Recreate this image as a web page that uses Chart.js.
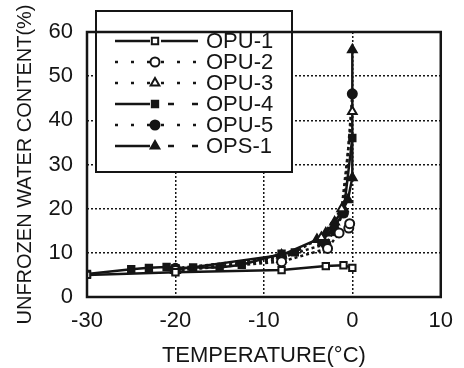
<!DOCTYPE html>
<html>
<head>
<meta charset="utf-8">
<script src="https://cdn.jsdelivr.net/npm/chart.js@4"></script>
<style>
  html, body { margin: 0; padding: 0; background: #fff; }
</style>
</head>
<body>
<canvas id="chart" width="464" height="368"></canvas>
<script>
// Series names (legend order)
const seriesNames = ['OPU-1', 'OPU-2', 'OPU-3', 'OPU-4', 'OPU-5', 'OPS-1'];

// Temperature (°C) / unfrozen water content (%)
const opu1Temp  = [-30, -20, -8, -3, -1, 0];
const opu1Water = [5.0, 5.6, 6.1, 7.0, 7.2, 6.6];

const opu2Temp  = [-20, -8, -2.8, -1.5, -0.4, -0.3];
const opu2Water = [6.0, 8.0, 11.0, 14.5, 15.6, 16.6];

const opu3Temp  = [-20, -8, -3.5, -1.2, 0];
const opu3Water = [6.0, 8.5, 13.5, 20.0, 42.0];

const opu4Temp  = [-30, -25, -23, -21, -20, -18, -15, -12.5, -8, -6.5];
const opu4Water = [5.2, 6.3, 6.6, 6.8, 6.5, 6.7, 6.7, 7.3, 9.8, 10.1];
const opu4NearTemp  = [-3.5, -2, -1, 0];
const opu4NearWater = [12.5, 16, 19, 36];

const opu5Temp  = [-20, -8, -3, -2, -1, 0];
const opu5Water = [6.5, 9.0, 12.0, 15.0, 19.0, 46.0];

const ops1Temp  = [-20, -8, -4, -3, -2, -1, -0.5, 0, 0];
const ops1Water = [6.2, 9.5, 13.0, 14.5, 17.0, 20.0, 22.0, 27.0, 56.0];

const xTicks = [-30, -20, -10, 0, 10];
const yTicks = [0, 10, 20, 30, 40, 50, 60];

const ink = '#151515';
const fontFamily = '"Liberation Sans", Arial, sans-serif';

function pts(xs, ys) {
  return xs.map((x, i) => ({ x: x, y: ys[i] }));
}

function series(label, data, style, filled, dash) {
  return {
    label: label,
    data: data,
    showLine: true,
    borderColor: ink,
    borderWidth: 2.5,
    borderDash: dash,
    pointStyle: style,
    pointRadius: style === 'triangle' ? 5 : 4.5,
    pointBorderWidth: 2,
    pointBorderColor: ink,
    pointBackgroundColor: filled ? ink : '#fff',
    tension: 0
  };
}

// legend line styles: [left half dash, right half dash]
const legendDash = [
  [[], []],
  [[3, 13], [3, 13]],
  [[3, 13], [3, 13]],
  [[], [6, 18]],
  [[3, 13], [3, 13]],
  [[], [6, 18]]
];

const legendBox = {
  id: 'legendBox',
  afterDatasetsDraw(chart) {
    const ctx = chart.ctx;
    ctx.save();
    ctx.fillStyle = '#fff';
    ctx.fillRect(96, 11, 196, 161);
    ctx.strokeStyle = ink;
    ctx.lineWidth = 2;
    ctx.strokeRect(96, 11, 196, 161);
    for (let i = 0; i < seriesNames.length; i++) {
      const ds = chart.data.datasets[i];
      const y = 41 + i * 21;
      ctx.lineWidth = 2.5;
      ctx.strokeStyle = ink;
      ctx.setLineDash(legendDash[i][0]);
      ctx.beginPath(); ctx.moveTo(115, y); ctx.lineTo(150, y); ctx.stroke();
      ctx.setLineDash(legendDash[i][1]);
      const rx = legendDash[i][1].length && legendDash[i][1][0] === 6 ? 168 : 161;
      ctx.beginPath(); ctx.moveTo(rx, y); ctx.lineTo(198, y); ctx.stroke();
      ctx.setLineDash([]);
      ctx.fillStyle = ds.pointBackgroundColor;
      ctx.lineWidth = 2;
      Chart.helpers.drawPoint(ctx, {
        pointStyle: ds.pointStyle,
        radius: ds.pointRadius,
        rotation: 0,
        borderWidth: 2
      }, 155, y);
      ctx.fillStyle = ink;
      ctx.font = '22px ' + fontFamily;
      ctx.textBaseline = 'middle';
      ctx.textAlign = 'left';
      ctx.fillText(seriesNames[i], 206, y + 1);
    }
    ctx.restore();
  },
  afterDraw(chart) {
    const a = chart.chartArea;
    const ctx = chart.ctx;
    ctx.save();
    ctx.strokeStyle = ink;
    ctx.lineWidth = 2.5;
    ctx.strokeRect(a.left, a.top, a.right - a.left, a.bottom - a.top);
    ctx.restore();
  }
};

new Chart(document.getElementById('chart').getContext('2d'), {
  type: 'scatter',
  data: {
    datasets: [
      series(seriesNames[0], pts(opu1Temp, opu1Water), 'rect', false, []),
      series(seriesNames[1], pts(opu2Temp, opu2Water), 'circle', false, [3, 3]),
      series(seriesNames[2], pts(opu3Temp, opu3Water), 'triangle', false, [3, 3]),
      series(seriesNames[3], pts(opu4Temp, opu4Water), 'rect', true, []),
      series(seriesNames[4], pts(opu5Temp, opu5Water), 'circle', true, [3, 3]),
      series(seriesNames[5], pts(ops1Temp, ops1Water), 'triangle', true, []),
      series('OPU-4 near 0', pts(opu4NearTemp, opu4NearWater), 'rect', true, [])
    ]
  },
  options: {
    responsive: false,
    animation: false,
    layout: { padding: { left: 0, top: 32, right: 14, bottom: 0 } },
    plugins: {
      legend: { display: false },
      tooltip: { enabled: false }
    },
    scales: {
      x: {
        type: 'linear',
        min: -30,
        max: 10,
        afterBuildTicks: function(scale) { scale.ticks = xTicks.map(v => ({ value: v })); },
        afterFit: function(scale) { scale.height = 71; },
        grid: {
          color: ink,
          lineWidth: 1.5,
          drawTicks: false
        },
        border: { display: false, dash: [2, 2] },
        ticks: {
          color: ink,
          padding: 11,
          font: { family: fontFamily, size: 22 }
        },
        title: {
          display: true,
          text: 'TEMPERATURE(°C)',
          color: ink,
          padding: { top: 0, bottom: 0 },
          font: { family: fontFamily, size: 22, lineHeight: 1.1 }
        }
      },
      y: {
        type: 'linear',
        min: 0,
        max: 60,
        afterBuildTicks: function(scale) { scale.ticks = yTicks.map(v => ({ value: v })); },
        afterFit: function(scale) { scale.width = 87; },
        grid: {
          color: ink,
          lineWidth: 1.5,
          drawTicks: false
        },
        border: { display: false, dash: [2, 2] },
        ticks: {
          color: ink,
          padding: 14,
          font: { family: fontFamily, size: 22 }
        },
        title: {
          display: true,
          text: 'UNFROZEN WATER CONTENT(%)',
          color: ink,
          padding: { top: 13, bottom: 0 },
          font: { family: fontFamily, size: 20, lineHeight: 1.2 }
        }
      }
    }
  },
  plugins: [legendBox]
});
</script>
</body>
</html>
